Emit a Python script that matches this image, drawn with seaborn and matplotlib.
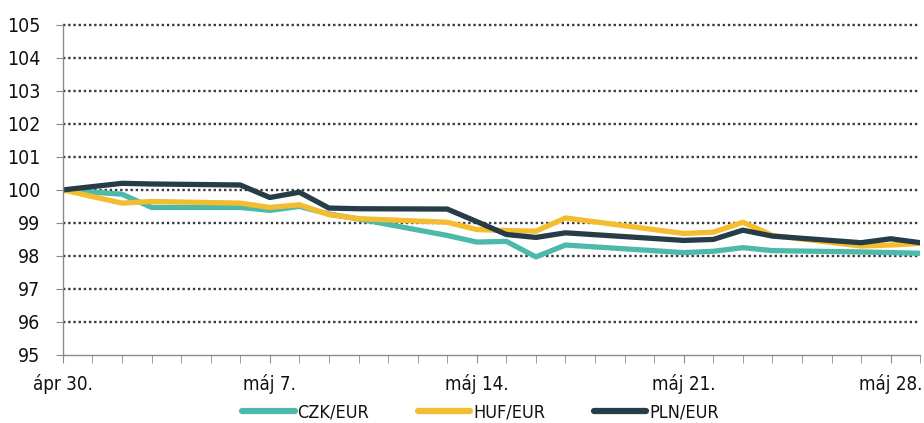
import pandas as pd
import numpy as np
import matplotlib
matplotlib.use("Agg")
import matplotlib.pyplot as plt
import matplotlib.dates as mdates
import seaborn as sns

# trading days with data (year assumed)
dates = ["2018-04-30", "2018-05-02", "2018-05-03", "2018-05-06", "2018-05-07",
         "2018-05-08", "2018-05-09", "2018-05-10", "2018-05-13", "2018-05-14",
         "2018-05-15", "2018-05-16", "2018-05-17", "2018-05-21", "2018-05-22",
         "2018-05-23", "2018-05-24", "2018-05-27", "2018-05-28", "2018-05-29"]

czk = [100.0, 99.87, 99.47, 99.47, 99.38, 99.50, 99.27, 99.12, 98.62, 98.42,
       98.44, 97.97, 98.33, 98.10, 98.14, 98.25, 98.16, 98.12, 98.10, 98.08]
huf = [100.0, 99.60, 99.65, 99.60, 99.47, 99.55, 99.25, 99.13, 99.02, 98.80,
       98.77, 98.75, 99.15, 98.68, 98.72, 99.02, 98.62, 98.30, 98.33, 98.38]
pln = [100.0, 100.20, 100.18, 100.15, 99.77, 99.93, 99.45, 99.43, 99.42, 99.04,
       98.65, 98.56, 98.70, 98.47, 98.50, 98.78, 98.60, 98.40, 98.52, 98.40]

series_names = ["CZK/EUR", "HUF/EUR", "PLN/EUR"]
colors = ["#4db9aa", "#f4bd2f", "#263c47"]

tick_dates = ["2018-04-30", "2018-05-07", "2018-05-14", "2018-05-21", "2018-05-28"]
tick_labels = ["ápr 30.", "máj 7.", "máj 14.", "máj 21.", "máj 28."]

df = pd.DataFrame({"date": pd.to_datetime(dates), "CZK/EUR": czk,
                   "HUF/EUR": huf, "PLN/EUR": pln})
long = df.melt(id_vars="date", var_name="series", value_name="value")

sns.set_style("white")
plt.rcParams["font.family"] = ["DejaVu Sans"]
plt.rcParams["font.stretch"] = "condensed"

fig = plt.figure(figsize=(9.24, 4.23), dpi=100)
ax = fig.add_axes([0.068, 0.161, 0.928, 0.780])

sns.lineplot(data=long, x="date", y="value", hue="series", hue_order=series_names,
             palette=colors, linewidth=3.8, ax=ax, legend=False)

ax.set_ylim(95, 105)
ax.set_yticks(np.arange(95, 106, 1))
ax.set_xlim(pd.Timestamp("2018-04-30"), pd.Timestamp("2018-05-29"))
ax.set_xticks(pd.to_datetime(tick_dates))
ax.set_xticklabels(tick_labels)
ax.xaxis.set_minor_locator(mdates.DayLocator())
ax.set_xlabel("")
ax.set_ylabel("")

for yv in range(96, 106):
    ax.axhline(yv, color="#3a3a3a", linestyle=(0, (1, 1.2)), linewidth=1.7,
               zorder=0, clip_on=False)

for s in ["top", "right"]:
    ax.spines[s].set_visible(False)
for s in ["left", "bottom"]:
    ax.spines[s].set_color("#8a8a8a")
    ax.spines[s].set_linewidth(1.0)

ax.tick_params(axis="y", which="major", length=5, color="#8a8a8a", labelsize=14,
               pad=11, left=True, labelcolor="#111111")
ax.tick_params(axis="x", which="major", length=6, color="#8a8a8a", labelsize=13.5,
               pad=8, bottom=True, labelcolor="#111111")
ax.tick_params(axis="x", which="minor", length=6, color="#8a8a8a", bottom=True)

handles = [plt.Line2D([0], [0], color=c, linewidth=4.5) for c in colors]
fig.legend(handles, series_names, loc="lower center", bbox_to_anchor=(0.52, -0.035),
           ncol=3, frameon=False, fontsize=13, handlelength=2.9,
           handletextpad=0.15, columnspacing=2.7, labelcolor="#111111")

fig.savefig("out.png", dpi=100)
